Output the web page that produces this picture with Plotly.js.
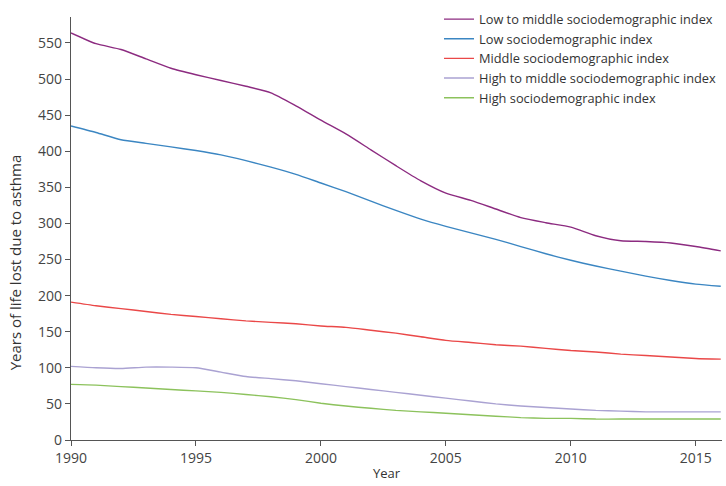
<!DOCTYPE html>
<html>
<head>
<meta charset="utf-8">
<script src="https://cdn.plot.ly/plotly-3.0.1.min.js"></script>
<style>
html,body{margin:0;padding:0;background:#fff;}
#chart{width:726px;height:486px;}
</style>
</head>
<body>
<div id="chart"></div>
<script>
const years = [1990,1991,1992,1993,1994,1995,1996,1997,1998,1999,2000,2001,2002,2003,2004,2005,2006,2007,2008,2009,2010,2011,2012,2013,2014,2015,2016];
const lowMiddle = [564,549,541,528,515,506,498,490,481,463,443,424,402,380,359,342,332,320,308,301,295,283,276,275,273,268,262];
const low = [435,426,416,411,406,401,395,387,378,368,356,344,331,318,306,296,287,278,268,258,249,241,234,227,221,216,213];
const middle = [191,186,182,178,174,171,168,165,163,161,158,156,152,148,143,138,135,132,130,127,124,122,119,117,115,113,112];
const highMiddle = [102,100,99,101,101,100,94,88,85,82,78,74,70,66,62,58,54,50,47,45,43,41,40,39,39,39,39];
const high = [77,76,74,72,70,68,66,63,60,56,51,47,44,41,39,37,35,33,31,30,30,29,29,29,29,29,29];

const seriesNames = ["Low to middle sociodemographic index","Low sociodemographic index","Middle sociodemographic index","High to middle sociodemographic index","High sociodemographic index"];
const seriesData = [lowMiddle, low, middle, highMiddle, high];
const colors = ["#8c2b80","#3b86c2","#ea4848","#aaa2d2","#8cc25c"];

const traces = seriesData.map((d,i)=>({
  x: years, y: d, name: seriesNames[i], type:'scatter', mode:'lines',
  line:{color:colors[i], width:1.4, shape:'spline', smoothing:0.6},
  hoverinfo:'skip'
}));

const font = "'Open Sans', 'Noto Sans', sans-serif";
const layout = {
  width:726, height:486,
  margin:{l:71, r:4, t:14, b:46},
  paper_bgcolor:'#fff', plot_bgcolor:'#fff',
  font:{family:font, size:13, color:'#444'},
  showlegend:true,
  legend:{x:1.0, xanchor:'right', y:1.03, yanchor:'top', bgcolor:'rgba(0,0,0,0)',
    font:{family:font, size:12.8, color:'#333'}, tracegroupgap:0, itemwidth:30},
  xaxis:{range:[1990,2016.05], tickvals:[1990,1995,2000,2005,2010,2015], ticks:'outside', ticklen:5, tickcolor:'#555',
    showline:true, linecolor:'#555', linewidth:1.3, showgrid:false, zeroline:false,
    tickfont:{size:14, color:'#444'}},
  yaxis:{range:[0,586], tickvals:[0,50,100,150,200,250,300,350,400,450,500,550], ticks:'outside', ticklen:5, tickcolor:'#555',
    showline:true, linecolor:'#555', linewidth:1.3, showgrid:false, zeroline:false,
    tickfont:{size:14, color:'#444'}},
  annotations:[
    {text:'Years of life lost due to asthma', xref:'paper', yref:'paper', x:-0.086, y:0.42, xanchor:'center', yanchor:'middle',
      textangle:-90, showarrow:false, font:{family:font, size:15, color:'#333'}},
    {text:'Year', xref:'paper', yref:'paper', x:0.485, y:-0.079, xanchor:'center', yanchor:'middle',
      showarrow:false, font:{family:font, size:13, color:'#333'}}
  ]
};
Plotly.newPlot('chart', traces, layout, {displayModeBar:false, staticPlot:true});
</script>
</body>
</html>
